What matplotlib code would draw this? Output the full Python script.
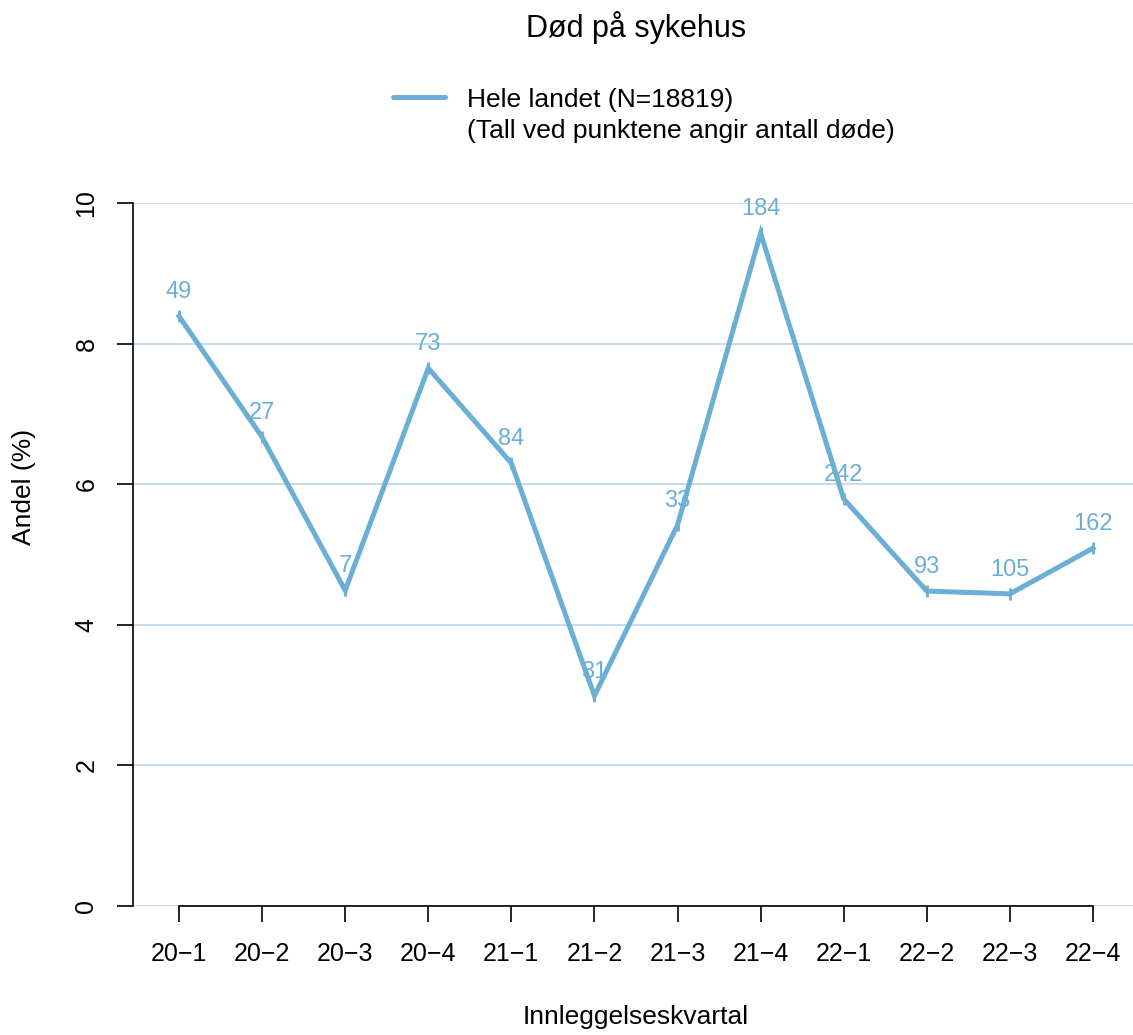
import matplotlib.pyplot as plt
from matplotlib.lines import Line2D
import numpy as np

plt.rcParams['font.family'] = ['Liberation Sans', 'DejaVu Sans']

# --- Data ---
quarters = ["20−1", "20−2", "20−3", "20−4", "21−1", "21−2",
            "21−3", "21−4", "22−1", "22−2", "22−3", "22−4"]
andel = [8.39, 6.67, 4.49, 7.65, 6.30, 2.99, 5.42, 9.57, 5.79, 4.48, 4.44, 5.09]
deaths = [49, 27, 7, 73, 84, 31, 33, 184, 242, 93, 105, 162]

line_col = "#6BAED6"
grid_col = "#C6DBEF"
fs = 19

W, H = 1133, 1035
fig = plt.figure(figsize=(W / 100, H / 100), dpi=100)
ax = fig.add_axes([133 / W, (H - 906) / H, 1000 / W, 703 / H])

x = np.arange(1, len(quarters) + 1)
# x=1 at px 179, x=12 at px 1093
step = (1093 - 179) / 11
ax.set_xlim(1 - (179 - 133) / step, 12 + (1133 - 1093) / step)
ax.set_ylim(0, 10)

for yv in range(0, 11, 2):
    ax.axhline(yv, color=grid_col, lw=1.4, zorder=0)

ax.plot(x, andel, color=line_col, lw=3.6, solid_joinstyle="miter", zorder=3)
ax.plot(x, andel, ls="none", marker="|", ms=9, mew=2, color=line_col, zorder=3)
for xi, yi, d in zip(x, andel, deaths):
    ax.annotate(str(d), (xi, yi), xytext=(0, 24), textcoords="offset pixels",
                ha="center", va="center", fontsize=17, color=line_col,
                annotation_clip=False, zorder=4)

for s in ["top", "right"]:
    ax.spines[s].set_visible(False)
ax.spines["left"].set_bounds(0, 10)
ax.spines["bottom"].set_bounds(1, 12)
ax.spines["left"].set_linewidth(1.2)
ax.spines["bottom"].set_linewidth(1.2)

ax.set_xticks(x)
ax.set_xticklabels(quarters)
ax.set_yticks(range(0, 11, 2))
ax.tick_params(axis="both", length=11.5, width=1.2, labelsize=18)
ax.tick_params(axis="x", pad=23)
ax.tick_params(axis="y", pad=22)
for lab in ax.get_xticklabels():
    lab.set_va("center")
for lab in ax.get_yticklabels():
    lab.set_rotation(90)
    lab.set_va("center")
    lab.set_ha("center")

fig.text(636 / W, 1 - 1017 / H, "Innleggelseskvartal", ha="center", va="center", fontsize=fs)
fig.text(24 / W, 1 - 487 / H, "Andel (%)", ha="center", va="center",
         rotation=90, fontsize=fs)
fig.text(636 / W, 1 - 28 / H, "Død på sykehus", ha="center", va="center", fontsize=22)

# --- Legend ---
fig.add_artist(Line2D([393 / W, 445 / W], [1 - 97 / H, 1 - 97 / H],
                      color=line_col, lw=3.6, solid_capstyle="round"))
fig.text(467 / W, 1 - 100 / H, "Hele landet (N=18819)", ha="left", va="center", fontsize=fs)
fig.text(467 / W, 1 - 131 / H, "(Tall ved punktene angir antall døde)",
         ha="left", va="center", fontsize=fs)

fig.savefig("out.png", dpi=100)
